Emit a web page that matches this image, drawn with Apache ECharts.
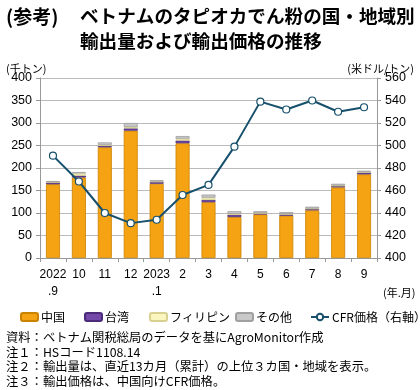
<!DOCTYPE html>
<html><head><meta charset="utf-8">
<script src="https://cdn.jsdelivr.net/npm/echarts@6/dist/echarts.min.js"></script>
<style>html,body{margin:0;padding:0;background:#fff}#c{width:420px;height:390px}</style>
</head><body><div id="c"></div>
<script>
const categories = ['2022\n.9','10','11','12','2023\n.1','2','3','4','5','6','7','8','9'];
const china = [164,179,246,283,165,255,124,91,97,94,106,157,186];
const taiwan = [4,4,3,5,4,6,5,5,2,3,3,3,4];
const philippines = [1,5,2,3,1,4,5,2,1,1,1,1,1];
const others = [2,3,6,9,3,6,7,6,4,4,4,4,3];
const cfr = [491,468,440,431,434,456,465,499,539,532,540,530,534];
const leftTicks = {min:0, max:400, interval:50};
const rightTicks = {min:400, max:560, interval:20};

const FONT = '"Noto Sans CJK JP", sans-serif';
const chart = echarts.init(document.getElementById('c'), null, {renderer:'canvas'});
const barStyle = (c, b) => ({color:c, borderColor:b, borderWidth:0.8});
const legendBase = {top:306, itemWidth:17, itemHeight:8, textStyle:{fontFamily:FONT, fontSize:12, color:'#000', padding:[0,0,0,-2]}, itemGap:0};
chart.setOption({
  animation:false,
  textStyle:{fontFamily:FONT},
  title:[
    {text:'(参考)', left:1, top:2, textStyle:{fontFamily:FONT, fontSize:19, fontWeight:'bold', color:'#000'}},
    {text:'ベトナムのタピオカでん粉の国・地域別', left:75, top:2, textStyle:{fontFamily:FONT, fontSize:18.6, fontWeight:'bold', color:'#000'}},
    {text:'輸出量および輸出価格の推移', left:75, top:27, textStyle:{fontFamily:FONT, fontSize:18.6, fontWeight:'bold', color:'#000'}},
    {text:'(千トン)', left:1, top:58, textStyle:{fontFamily:FONT, fontSize:11, fontWeight:'normal', color:'#000'}},
    {text:'(米ドル/トン)', right:1, top:58, textStyle:{fontFamily:FONT, fontSize:11, fontWeight:'normal', color:'#000'}},
    {text:'(年.月)', left:378, top:282, textStyle:{fontFamily:FONT, fontSize:11, fontWeight:'normal', color:'#000'}},
    {text:'資料：ベトナム関税総局のデータを基にAgroMonitor作成\n注１：HSコード1108.14\n注２：輸出量は、直近13カ月（累計）の上位３カ国・地域を表示。\n注３：輸出価格は、中国向けCFR価格。',
     left:1, top:325, textStyle:{fontFamily:FONT, fontSize:12.3, fontWeight:'normal', color:'#000', lineHeight:14.7}}
  ],
  legend:[
    Object.assign({}, legendBase, {left:15, data:['中国']}),
    Object.assign({}, legendBase, {left:79, data:['台湾']}),
    Object.assign({}, legendBase, {left:144, data:['フィリピン']}),
    Object.assign({}, legendBase, {left:230, data:['その他']}),
    Object.assign({}, legendBase, {left:305, data:['CFR価格（右軸）'], itemWidth:18})
  ],
  grid:{left:40, right:43, top:78, bottom:132, containLabel:false},
  xAxis:{type:'category', data:categories,
    axisLine:{lineStyle:{color:'#999'}},
    axisTick:{show:true, length:4, lineStyle:{color:'#999'}},
    axisLabel:{color:'#000', fontSize:12, fontFamily:'"Liberation Sans", Arial, sans-serif', lineHeight:17, margin:8, interval:0}},
  yAxis:[
    {type:'value', min:leftTicks.min, max:leftTicks.max, interval:leftTicks.interval,
     axisLine:{show:true, lineStyle:{color:'#999'}}, axisTick:{show:true, length:4, lineStyle:{color:'#999'}},
     splitLine:{lineStyle:{color:'#bbb', width:1}},
     axisLabel:{color:'#000', fontSize:12.5, fontFamily:'"Liberation Sans", Arial, sans-serif', margin:8}},
    {type:'value', min:rightTicks.min, max:rightTicks.max, interval:rightTicks.interval, position:'right',
     axisLine:{show:true, lineStyle:{color:'#999'}}, axisTick:{show:true, length:4, lineStyle:{color:'#999'}},
     splitLine:{show:false},
     axisLabel:{color:'#000', fontSize:12.5, fontFamily:'"Liberation Sans", Arial, sans-serif', margin:8}}
  ],
  series:[
    {name:'中国', type:'bar', stack:'v', data:china, barCategoryGap:'46%', itemStyle:barStyle('#F5A313','#C98300')},
    {name:'台湾', type:'bar', stack:'v', data:taiwan, itemStyle:barStyle('#7348A8','#4B2A7A')},
    {name:'フィリピン', type:'bar', stack:'v', data:philippines, itemStyle:barStyle('#FBF6C0','#D8D090')},
    {name:'その他', type:'bar', stack:'v', data:others, itemStyle:barStyle('#C8C8C8','#A0A0A0')},
    {name:'CFR価格（右軸）', type:'line', yAxisIndex:1, data:cfr, symbol:'circle', symbolSize:7,
     lineStyle:{color:'#17506C', width:2}, itemStyle:{color:'#fff', borderColor:'#17506C', borderWidth:1.2}, z:5}
  ]
});
</script></body></html>
